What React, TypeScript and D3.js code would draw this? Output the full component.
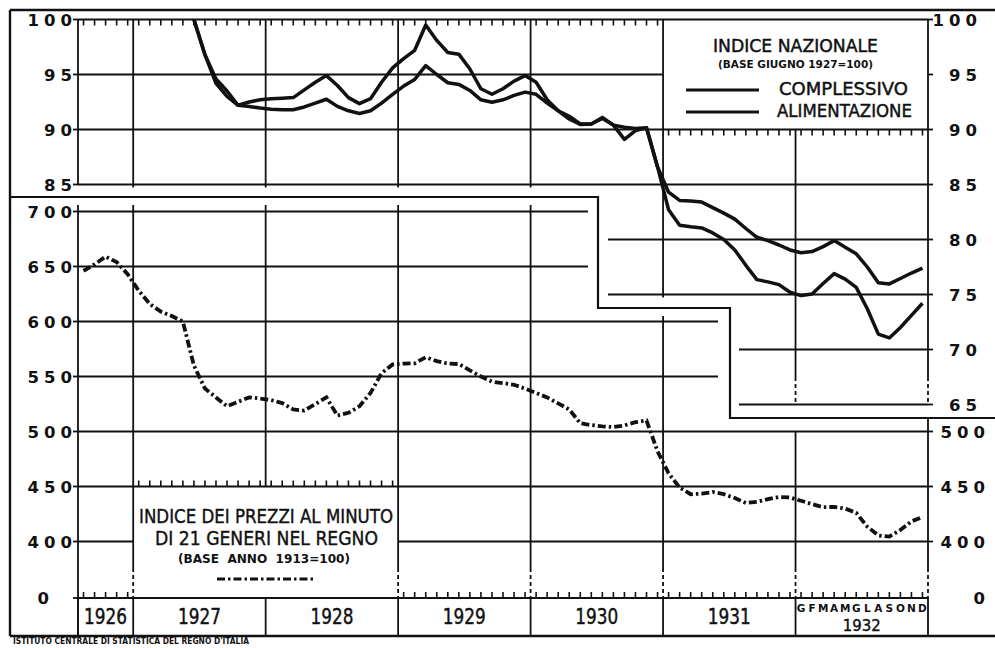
import React from 'react';
import * as d3 from 'd3';

// ---- categories ----
const years = ['1926', '1927', '1928', '1929', '1930', '1931', '1932'];
const monthsPerYear = [5, 12, 12, 12, 12, 12, 12]; // from Aug 1926
const months1932 = ['G', 'F', 'M', 'A', 'M', 'G', 'L', 'A', 'S', 'O', 'N', 'D'];

// ---- tick labels ----
const nationalLeftTicks = [100, 95, 90, 85];
const nationalRightTicks = [100, 95, 90, 85, 80, 75, 70, 65];
const retailLeftTicks = [700, 650, 600, 550, 500, 450, 400];
const retailRightTicks = [500, 450, 400];

// ---- series ----
// Indice nazionale (base giugno 1927 = 100), monthly from June 1927
const nationalStart = 10; // months after Aug 1926
const complessivo = [
  100, 96.8, 94.2, 93.0, 92.2, 92.1, 91.95,
  91.85, 91.8, 91.8, 92.05, 92.4, 92.75, 92.1, 91.7, 91.45, 91.7, 92.4, 93.2,
  93.95, 94.55, 95.8, 95.0, 94.25, 94.1, 93.55, 92.7, 92.47, 92.7, 93.1, 93.4,
  93.2, 92.4, 91.7, 90.95, 90.45, 90.5, 91.0, 90.4, 90.2, 90.1, 90.15, 86.6,
  84.3, 83.55, 83.5, 83.4, 82.9, 82.4, 81.85, 81.0, 80.2, 79.9, 79.5, 79.05,
  78.8, 78.9, 79.35, 79.9, 79.3, 78.7, 77.5, 76.06, 75.96, 76.45, 76.95, 77.4,
];
const alimentazione = [
  100, 96.8, 94.6, 93.5, 92.2, 92.5, 92.7,
  92.8, 92.85, 92.9, 93.6, 94.3, 94.9, 94.0, 92.9, 92.35, 92.8, 94.3, 95.6,
  96.45, 97.2, 99.5, 98.1, 97.0, 96.85, 95.5, 93.7, 93.2, 93.7, 94.4, 94.9,
  94.3, 92.7, 91.7, 91.2, 90.5, 90.5, 91.1, 90.4, 89.1, 89.9, 90.15, 86.6,
  82.7, 81.3, 81.15, 81.05, 80.6, 80.0, 79.05, 77.65, 76.35, 76.15, 75.9, 75.2,
  74.9, 75.05, 76.0, 76.9, 76.4, 75.65, 73.7, 71.4, 71.05, 72.0, 73.1, 74.2,
];
// Indice dei prezzi al minuto di 21 generi (base 1913 = 100), Aug 1926 - Dec 1932
const prezzi21 = [
  646, 652, 659, 654, 643,
  628, 616, 609, 605, 600, 560, 539, 531, 523, 527, 531, 530,
  528.6, 525.8, 520, 519, 525, 531, 514.5, 517, 523, 535, 553, 561,
  561.7, 562, 567.5, 564, 561.8, 561.3, 555.5, 550, 545.3, 544, 542.5, 539,
  535, 531, 525.5, 520, 507.5, 505.8, 504.7, 504, 505.5, 508.5, 510, 482,
  462, 449, 443, 443.5, 445, 443, 439.5, 435, 436, 438.5, 440.5, 440,
  437, 434, 431.2, 431.5, 430, 426, 413.5, 405.5, 404.4, 410.5, 418.3, 422.3,
];

const FONT = "'DejaVu Sans', sans-serif";
const INK = '#111';

export default function App() {
  const totalMonths = d3.sum(monthsPerYear);
  const x = d3.scaleLinear().domain([0, totalMonths]).range([78, 928]);
  const yN = d3.scaleLinear().domain([65, 100]).range([404.5, 19.5]);
  const yP = d3.scaleLinear().domain([400, 700]).range([541.5, 211.5]);
  const yZero = 598;
  const bottom = 636;

  const bounds = [0, ...Array.from(d3.cumsum(monthsPerYear))];
  const bx = bounds.map((b) => x(b));
  const mid = (i: number) => x(i + 0.5);

  const nLine = d3
    .line<number>()
    .x((_, i) => mid(i + nationalStart))
    .y((d) => yN(d));
  const pLine = d3
    .line<number>()
    .x((_, i) => mid(i))
    .y((d) => yP(d));

  const G = 1.8;
  const ln = (x1: number, y1: number, x2: number, y2: number, w = G, dash?: string, key?: string) => (
    <line key={key} x1={x1} y1={y1} x2={x2} y2={y2} stroke={INK} strokeWidth={w} strokeDasharray={dash} />
  );

  const allMonths = d3.range(totalMonths);
  const tickDown = (y: number, lo: number, hi: number, k: string) =>
    allMonths
      .filter((i) => i >= lo && i < hi)
      .map((i) => ln(mid(i), y, mid(i), y + 6, 1.6, undefined, k + i));
  const tickUp = (y: number, lo: number, hi: number, k: string) =>
    allMonths
      .filter((i) => i >= lo && i < hi)
      .map((i) => ln(mid(i), y, mid(i), y - 6, 1.6, undefined, k + i));

  const LS = 5;
  const numStyle = { fontFamily: FONT, fontWeight: 700, fontSize: 16.5, letterSpacing: LS } as const;
  const heavy = { stroke: INK, strokeWidth: 0.45 };

  return (
    <svg width={995} height={648} style={{ position: 'absolute', left: 0, top: 0, background: '#fff' }}>
      <rect x={0} y={0} width={995} height={648} fill="#fff" />

      {/* outer frame */}
      {ln(10, 10, 995, 10, 2.4)}
      {ln(10, 10, 10, bottom, 2.4)}
      {ln(10, bottom, 995, bottom, 2.4)}
      {/* step separator */}
      <path d="M10,197 H598 V308 H730 V418 H995" fill="none" stroke={INK} strokeWidth={2.2} />

      {/* ===== upper chart grid ===== */}
      {ln(78, yN(100), 928, yN(100))}
      {ln(78, yN(95), bx[5], yN(95))}
      {ln(78, yN(90), 928, yN(90))}
      {ln(78, yN(85), 928, yN(85))}
      {ln(608, yN(80), 928, yN(80))}
      {ln(608, yN(75), 928, yN(75))}
      {ln(739, yN(70), 928, yN(70))}
      {ln(739, yN(65), 928, yN(65))}
      {ln(bx[0], yN(100), bx[0], yN(85))}
      {[1, 2, 3, 4].map((k) => ln(bx[k], yN(100), bx[k], yN(85) + 3, G, undefined, 'uv' + k))}
      {ln(bx[5], yN(100), bx[5], yN(75) + 3)}
      {ln(bx[6], yN(90), bx[6], 377)}
      {ln(bx[6], 377, bx[6], yN(65), G, '4,3')}
      {ln(bx[7], yN(100), bx[7], 377)}
      {ln(bx[7], 377, bx[7], yN(65), G, '4,3')}
      {tickDown(yN(100), 0, 53, 'tt')}
      {tickDown(yN(90), 53, totalMonths, 'tl')}
      {nationalLeftTicks.map((v) => ln(73, yN(v), 78, yN(v), G, undefined, 'nl' + v))}
      {nationalRightTicks.map((v) => ln(928, yN(v), 933, yN(v), G, undefined, 'nr' + v))}

      {/* ===== lower chart grid ===== */}
      {ln(78, yP(700), 588, yP(700))}
      {ln(78, yP(650), 588, yP(650))}
      {ln(78, yP(600), 718, yP(600))}
      {ln(78, yP(550), 718, yP(550))}
      {ln(78, yP(500), 928, yP(500))}
      {ln(78, yP(450), 928, yP(450))}
      {ln(78, yP(400), bx[1], yP(400))}
      {ln(bx[3], yP(400), 928, yP(400))}
      {ln(78, yZero, 928, yZero)}
      {ln(bx[0], 205, bx[0], bottom)}
      {ln(bx[1], 205, bx[1], 568)}
      {ln(bx[2], 205, bx[2], yP(450))}
      {ln(bx[3], 205, bx[3], 568)}
      {ln(bx[4], 205, bx[4], 568)}
      {ln(bx[5], 316, bx[5], 568)}
      {ln(bx[6], yP(500), bx[6], 568)}
      {ln(bx[7], 418, bx[7], 568)}
      {[1, 3, 4, 5, 6, 7].map((k) => ln(bx[k], 568, bx[k], yZero, G, '4,3', 'dv' + k))}
      {bx.map((v, k) => ln(v, yZero, v, bottom, G, undefined, 'ys' + k))}
      {tickUp(yZero, 0, 5, 'b1')}
      {tickUp(yZero, 29, totalMonths, 'b2')}
      {tickUp(yP(450), 5, 29, 'b3')}
      {retailLeftTicks.map((v) => ln(73, yP(v), 78, yP(v), G, undefined, 'pl' + v))}
      {ln(73, yZero, 78, yZero)}
      {retailRightTicks.map((v) => ln(928, yP(v), 933, yP(v), G, undefined, 'pr' + v))}

      {/* ===== axis labels ===== */}
      {nationalLeftTicks.map((v) => (
        <text key={'nlt' + v} x={72 + LS} y={yN(v) + 6} textAnchor="end" fill={INK} style={numStyle}>{v}</text>
      ))}
      {nationalRightTicks.map((v) => (
        <text key={'nrt' + v} x={977 + LS} y={yN(v) + 6} textAnchor="end" fill={INK} style={numStyle}>{v}</text>
      ))}
      {retailLeftTicks.map((v) => (
        <text key={'plt' + v} x={72 + LS} y={yP(v) + 6} textAnchor="end" fill={INK} style={numStyle}>{v}</text>
      ))}
      <text x={54} y={yZero + 6} textAnchor="end" fill={INK} style={numStyle}>0</text>
      {retailRightTicks.map((v) => (
        <text key={'prt' + v} x={985 + LS} y={yP(v) + 6} textAnchor="end" fill={INK} style={numStyle}>{v}</text>
      ))}
      <text x={985 + LS} y={yZero + 6} textAnchor="end" fill={INK} style={numStyle}>0</text>

      {/* year labels */}
      {years.slice(0, 6).map((yr, k) => (
        <text key={'yr' + yr} x={(bx[k] + bx[k + 1]) / 2} y={624} textAnchor="middle" fill={INK} {...heavy}
          fontFamily={FONT} fontSize={21} textLength={43} lengthAdjust="spacingAndGlyphs">{yr}</text>
      ))}
      <text x={(bx[6] + bx[7]) / 2} y={631} textAnchor="middle" fill={INK} {...heavy}
        fontFamily={FONT} fontSize={16.5} textLength={38} lengthAdjust="spacingAndGlyphs">{years[6]}</text>
      {months1932.map((m, k) => (
        <text key={'m' + k} x={mid(65 + k)} y={611.5} textAnchor="middle" fill={INK}
          fontFamily={FONT} fontWeight={700} fontSize={10.5}>{m}</text>
      ))}

      {/* ===== series ===== */}
      <path d={nLine(complessivo) || ''} fill="none" stroke={INK} strokeWidth={3.5} strokeLinejoin="round" />
      <path d={nLine(alimentazione) || ''} fill="none" stroke={INK} strokeWidth={3.5} strokeLinejoin="round" />
      <path d={pLine(prezzi21) || ''} fill="none" stroke={INK} strokeWidth={3.8} strokeDasharray="8,3,2.5,3" />

      {/* ===== upper legend ===== */}
      <text x={795.5} y={51.7} textAnchor="middle" fill={INK} {...heavy} fontFamily={FONT} fontSize={17}
        textLength={165} lengthAdjust="spacingAndGlyphs">INDICE NAZIONALE</text>
      <text x={795.5} y={68.3} textAnchor="middle" fill={INK} fontFamily={FONT} fontWeight={700} fontSize={11}
        textLength={155} lengthAdjust="spacingAndGlyphs">(BASE GIUGNO 1927=100)</text>
      {ln(686, 90, 759, 90, 3.2)}
      {ln(686, 112, 759, 112, 3.2)}
      <text x={779} y={95} fill={INK} {...heavy} fontFamily={FONT} fontSize={17}
        textLength={129} lengthAdjust="spacingAndGlyphs">COMPLESSIVO</text>
      <text x={777} y={116.7} fill={INK} {...heavy} fontFamily={FONT} fontSize={17}
        textLength={135} lengthAdjust="spacingAndGlyphs">ALIMENTAZIONE</text>

      {/* ===== lower legend ===== */}
      <text x={139} y={523} fill={INK} {...heavy} fontFamily={FONT} fontSize={20}
        textLength={254} lengthAdjust="spacingAndGlyphs">INDICE DEI PREZZI AL MINUTO</text>
      <text x={155} y={545} fill={INK} {...heavy} fontFamily={FONT} fontSize={20}
        textLength={223} lengthAdjust="spacingAndGlyphs">DI 21 GENERI NEL REGNO</text>
      <text x={178} y={563} fill={INK} fontFamily={FONT} fontWeight={700} fontSize={12}
        textLength={172} lengthAdjust="spacingAndGlyphs" style={{ whiteSpace: 'pre' }}>(BASE  ANNO  1913=100)</text>
      {ln(217, 579, 313, 579, 3.2, '8,3,2.5,3')}

      {/* footer */}
      <text x={13} y={644} fill={INK} fontFamily={FONT} fontWeight={700} fontSize={8.5}
        textLength={236} lengthAdjust="spacingAndGlyphs">ISTITUTO CENTRALE DI STATISTICA DEL REGNO D'ITALIA</text>
    </svg>
  );
}
